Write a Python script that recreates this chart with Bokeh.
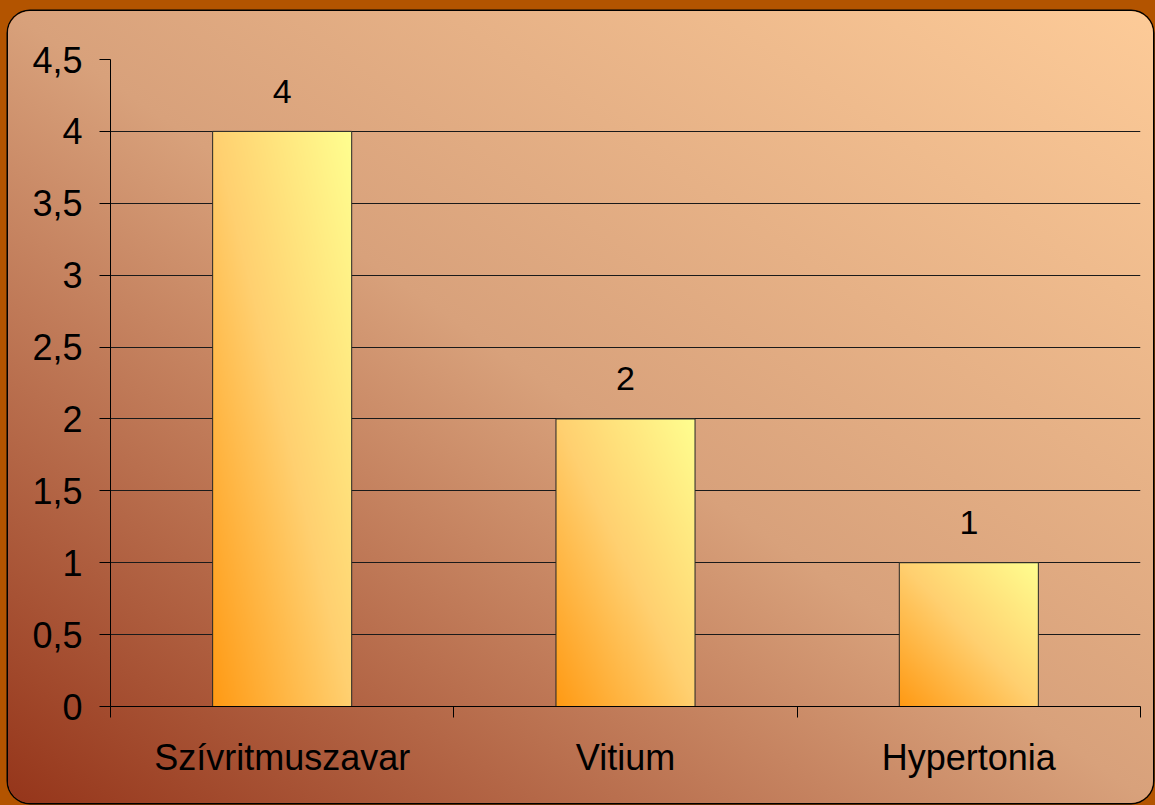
import numpy as np
from bokeh.plotting import figure
from bokeh.models import FixedTicker, Range1d, GlobalInlineStyleSheet
from bokeh.core.properties import value
from bokeh.embed import file_html
from bokeh.resources import INLINE

# ---- data ----
categories = ["Szívritmuszavar", "Vitium", "Hypertonia"]
counts = [4, 2, 1]
count_labels = ["4", "2", "1"]
y_ticks = [0, 0.5, 1, 1.5, 2, 2.5, 3, 3.5, 4, 4.5]
y_tick_labels = ["0", "0,5", "1", "1,5", "2", "2,5", "3", "3,5", "4", "4,5"]

# ---- style ----
FONT = "Liberation Sans"
BAR_WIDTH = 0.405
centers = [i + 0.5 for i in range(len(categories))]
boundaries = list(range(len(categories) + 1))

p = figure(
    width=1145, height=792,
    x_range=Range1d(0, len(categories)), y_range=Range1d(0, 4.5),
    output_backend="svg", toolbar_location=None,
    min_border_left=102, min_border_right=13, min_border_top=48, min_border_bottom=97,
)
p.margin = (11, 2, 2, 8)
p.background_fill_color = None
p.border_fill_color = None
p.outline_line_color = None
p.styles = {
    "background": "linear-gradient(to top right, #95351a 0%, #d8a17b 50%, #fdcb98 100%)",
    "border-radius": "22px",
    "box-shadow": "0 0 0 1.5px #000000",
}
p.stylesheets = [GlobalInlineStyleSheet(
    css="html, body { background: #b35400; margin: 0; padding: 0; overflow: hidden; }")]

# bar gradient fill (orange bottom-left -> pale yellow top-right)
N = 256
u = np.linspace(0, 1, N)
U, V = np.meshgrid(u, u)
t = (U + V) / 2
img = np.empty((N, N), dtype=np.uint32)
view = img.view(dtype=np.uint8).reshape((N, N, 4))
view[..., 0] = 255
view[..., 1] = np.interp(t, [0, 0.5, 1], [154, 208, 255]).astype(np.uint8)
view[..., 2] = np.interp(t, [0, 0.5, 1], [20, 112, 144]).astype(np.uint8)
view[..., 3] = 255

p.image_rgba(image=[img] * len(counts),
             x=[c - BAR_WIDTH / 2 for c in centers], y=[0] * len(counts),
             dw=[BAR_WIDTH] * len(counts), dh=counts)
p.vbar(x=centers, top=counts, width=BAR_WIDTH, fill_color=None,
       line_color="#262626", line_width=1)

p.text(x=centers, y=counts, text=count_labels, y_offset=-40,
       text_align="center", text_baseline="alphabetic",
       text_font=value(FONT), text_font_size="34px", text_color="#000000")

# grid
p.xgrid.grid_line_color = None
p.ygrid.ticker = FixedTicker(ticks=y_ticks)
p.ygrid.grid_line_color = "#1a1a1a"
p.ygrid.grid_line_width = 1

# y axis
p.yaxis.ticker = FixedTicker(ticks=y_ticks)
p.yaxis.major_label_overrides = dict(zip(y_ticks, y_tick_labels))
p.yaxis.major_tick_out = 11
p.yaxis.major_tick_in = 0
p.yaxis.minor_tick_out = 0
p.yaxis.minor_tick_in = 0
p.yaxis.axis_line_color = "#000000"
p.yaxis.major_tick_line_color = "#000000"
p.yaxis.major_label_standoff = 17
p.yaxis.major_label_text_font = FONT
p.yaxis.major_label_text_font_size = "36px"
p.yaxis.major_label_text_font_style = "normal"
p.yaxis.major_label_text_color = "#000000"

# x axis
p.xaxis.ticker = FixedTicker(ticks=centers, minor_ticks=boundaries)
p.xaxis.major_label_overrides = dict(zip(centers, categories))
p.xaxis.major_tick_out = 0
p.xaxis.major_tick_in = 0
p.xaxis.minor_tick_out = 11
p.xaxis.minor_tick_in = 0
p.xaxis.minor_tick_line_color = "#000000"
p.xaxis.axis_line_color = "#000000"
p.xaxis.major_label_standoff = 19
p.xaxis.major_label_text_font = FONT
p.xaxis.major_label_text_font_size = "36px"
p.xaxis.major_label_text_font_style = "normal"
p.xaxis.major_label_text_color = "#000000"

open("out.html", "w").write(file_html(p, INLINE, title="Chart"))
